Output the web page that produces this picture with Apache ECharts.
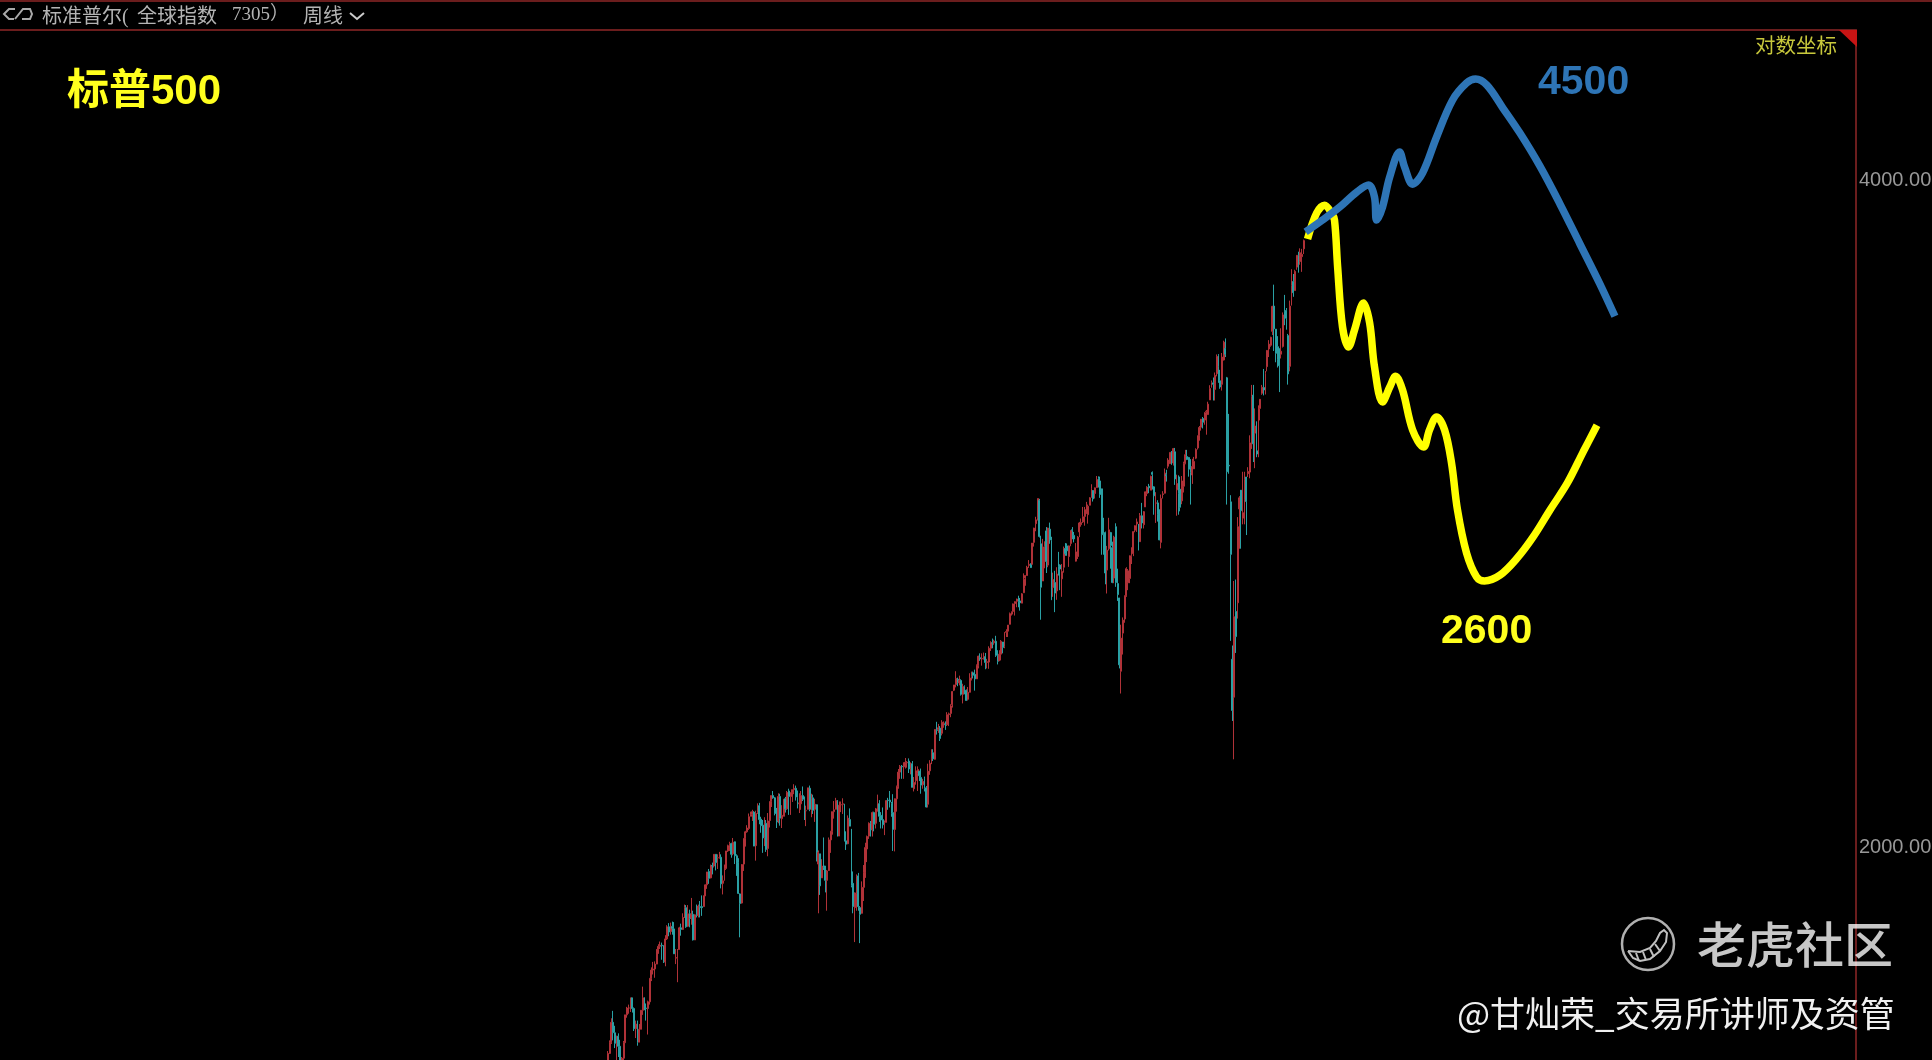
<!DOCTYPE html>
<html><head><meta charset="utf-8">
<style>html,body{margin:0;padding:0;background:#000;overflow:hidden}#c{width:1932px;height:1060px}</style>
<script src="https://cdn.jsdelivr.net/npm/echarts@6/dist/echarts.min.js"></script>
</head><body><div id="c"></div>
<script>
// S&P 500 weekly bars
const weeklyOpen=[
1570,1553,1588,1555,1582,1614,1633,1667,1649,1631,1643,1626,1593,1606,1632,1680,1692,1692,1710,1691,1656,1664,1633,1655,1688,1710,1692,1691,1703,1745,1760,1762,1771,1798,1804,1806,1805,1775,1818,
1841,1832,1841,1837,1782,1782,1798,1839,1836,1858,1878,1842,1866,1858,1865,1816,1865,1863,1880,1880,1880,1901,1923,1950,1937,1962,1961,1985,1968,1978,1979,1926,1932,1956,1992,2003,2007,1986,2011,1982,1968,1905,1887,1965,2018,2032,2039,2065,2069,2074,2003,2073,
2088,2059,2046,2020,2050,1997,2056,2097,2110,2105,2072,2055,2108,2060,2065,2103,2081,2120,2108,2116,2123,2126,2105,2092,2092,2110,2102,2077,2080,2126,2078,2105,2080,2090,1965,1986,1937,1961,1961,1932,1952,2015,2033,2075,2080,2096,2023,2090,2091,2091,2013,2007,2058,
2038,1926,1878,1906,1941,1878,1867,1918,1947,1996,2023,2050,2037,2073,2050,2083,2092,2067,2058,2047,2052,2100,2100,2092,2073,2037,2103,2131,2162,2175,2174,2183,2183,2187,2171,2181,2125,2143,2159,2164,2150,2134,2148,2127,2091,2165,2187,2206,2191,2259,2260,2263,
2251,2274,2272,2271,2295,2298,2319,2354,2368,2381,2372,2378,2344,2363,2354,2332,2349,2388,2397,2393,2382,2416,2435,2432,2434,2437,2423,2424,2459,2473,2473,2477,2441,2427,2444,2475,2464,2500,2503,2521,2551,2555,2576,2582,2588,2583,2577,2605,2645,2652,2680,2685,
2683,2745,2799,2816,2867,2741,2637,2734,2778,2681,2783,2750,2619,2633,2610,2676,2681,2643,2675,2727,2735,2705,2742,2781,2765,2692,2705,2775,2796,2804,2820,2829,2825,2853,2876,2897,2888,2906,2933,2926,2902,2770,2773,2667,2727,2773,2730,2645,2790,2630,2591,2401,
2498,2535,2597,2632,2644,2706,2713,2780,2798,2798,2747,2822,2796,2848,2888,2910,2898,2952,2908,2859,2860,2830,2745,2885,2889,2945,2971,2979,3018,2981,3016,2899,2907,2901,2866,2910,2980,3001,2998,2968,2944,2963,2996,3028,3067,3094,3122,3117,3144,3135,3183,3225,
3240,3218,3271,3333,3247,3235,3318,3358,3257,2974,2863,2431,2337,2555,2578,2842,2898,2815,2869,2938,2948,2953,3038,3199,3075,3019,3018,3155,3205,3224,3219,3295,3356,3369,3418,3509,3426,3364,3357,3338,3365,3488,3493,3403,3296,3583,3600,3566,3654,3699,3675,3694,3724];
const weeklyClose=[
1553,1588,1555,1582,1614,1633,1667,1649,1631,1643,1626,1593,1606,1632,1680,1692,1692,1710,1691,1656,1664,1633,1655,1688,1710,1692,1691,1703,1745,1760,1762,1771,1798,1804,1806,1805,1775,1818,1841,
1831,1842,1838,1790,1783,1797,1839,1836,1859,1878,1841,1866,1857,1865,1816,1864,1863,1881,1878,1878,1901,1923,1949,1936,1962,1961,1985,1968,1978,1978,1925,1931,1955,1992,2003,2007,1985,2010,1982,1967,1906,1886,1964,2018,2032,2040,2064,2068,2075,2002,2071,2089,
2058,2045,2019,2051,1995,2055,2097,2110,2105,2071,2053,2108,2061,2067,2102,2081,2117,2108,2116,2123,2126,2107,2092,2094,2110,2102,2077,2077,2127,2080,2104,2078,2091,1971,1989,1921,1961,1958,1932,1951,2015,2033,2075,2079,2099,2023,2089,2090,2092,2012,2006,2061,2044,
1922,1880,1907,1940,1880,1865,1918,1948,1999,2022,2050,2036,2073,2048,2081,2092,2065,2057,2047,2052,2099,2099,2096,2071,2037,2103,2130,2162,2175,2174,2183,2184,2184,2169,2180,2128,2139,2165,2168,2154,2133,2141,2126,2085,2164,2182,2213,2192,2260,2258,2264,2239,
2277,2275,2271,2295,2297,2316,2351,2367,2383,2373,2378,2344,2363,2355,2329,2349,2384,2399,2391,2382,2416,2439,2432,2433,2438,2423,2425,2459,2473,2472,2477,2441,2426,2444,2477,2461,2500,2502,2519,2549,2553,2575,2581,2588,2582,2578,2602,2642,2652,2675,2683,2674,
2743,2786,2810,2873,2762,2620,2732,2747,2691,2786,2752,2588,2641,2604,2656,2670,2670,2663,2728,2713,2721,2735,2779,2780,2755,2718,2760,2801,2802,2819,2840,2833,2850,2875,2902,2872,2905,2930,2914,2885,2767,2768,2659,2723,2781,2736,2633,2760,2633,2600,2417,2485,
2532,2596,2671,2665,2707,2708,2776,2793,2804,2743,2822,2801,2834,2893,2907,2905,2940,2946,2881,2860,2826,2752,2873,2887,2950,2942,2990,3014,2977,3026,2932,2918,2889,2847,2926,2979,3007,2992,2962,2952,2970,2986,3023,3067,3093,3120,3110,3141,3146,3169,3221,3240,
3235,3265,3330,3295,3226,3328,3380,3338,2954,2972,2711,2305,2541,2489,2790,2875,2837,2831,2930,2864,2955,3044,3194,3041,3098,3009,3130,3185,3225,3216,3271,3351,3373,3397,3508,3427,3341,3319,3298,3348,3477,3484,3465,3270,3509,3585,3558,3638,3699,3663,3709,3703,3756];
const weeklyLow=[
1539,1548,1536,1549,1581,1613,1630,1636,1623,1598,1608,1574,1560,1601,1632,1675,1682,1685,1684,1652,1640,1627,1633,1655,1680,1688,1670,1646,1698,1740,1752,1746,1772,1790,1799,1779,1773,1767,1816,
1823,1826,1826,1790,1771,1738,1798,1824,1835,1858,1839,1841,1840,1845,1815,1816,1859,1859,1859,1862,1880,1901,1915,1925,1936,1944,1958,1952,1955,1976,1916,1904,1933,1953,1990,1992,1978,1983,1965,1941,1905,1821,1886,1951,2001,2030,2036,2065,2055,2002,1972,2070,
2048,2030,1988,2002,1990,1981,2041,2085,2103,2067,2040,2050,2045,2040,2065,2073,2079,2068,2068,2096,2113,2099,2082,2072,2079,2098,2057,2044,2080,2076,2063,2070,2053,1971,1867,1903,1937,1953,1908,1872,1951,1988,2026,2060,2080,2022,2023,2074,2070,2012,1994,2006,2044,
1918,1867,1812,1872,1872,1810,1871,1891,1937,1969,2017,2022,2022,2033,2039,2075,2053,2039,2039,2025,2052,2079,2084,2064,1992,1991,2075,2125,2147,2147,2147,2170,2172,2160,2157,2128,2119,2134,2120,2142,2114,2125,2119,2084,2084,2156,2180,2187,2192,2248,2252,2233,
2246,2264,2259,2268,2268,2289,2312,2352,2361,2364,2366,2341,2322,2344,2328,2329,2349,2378,2383,2353,2382,2408,2427,2415,2430,2406,2408,2407,2452,2459,2468,2437,2418,2428,2428,2446,2459,2488,2488,2521,2544,2547,2544,2566,2566,2557,2577,2605,2624,2652,2673,2673,
2683,2733,2777,2808,2759,2533,2637,2672,2659,2675,2741,2585,2594,2553,2586,2652,2612,2594,2660,2707,2707,2676,2734,2754,2745,2691,2698,2760,2790,2801,2793,2827,2799,2853,2876,2864,2873,2905,2906,2875,2710,2710,2628,2603,2722,2671,2631,2631,2621,2583,2408,2346,
2443,2525,2594,2612,2631,2684,2706,2774,2775,2722,2747,2785,2785,2848,2880,2889,2898,2900,2825,2801,2805,2751,2728,2873,2888,2924,2964,2979,2975,2973,2914,2822,2825,2835,2856,2891,2977,2990,2939,2855,2917,2963,2993,3023,3051,3083,3090,3102,3070,3134,3183,3226,
3181,3181,3262,3240,3220,3214,3316,3328,2855,2948,2478,2280,2191,2447,2536,2727,2727,2797,2797,2766,2938,2934,3025,2984,2965,2999,2999,3116,3200,3198,3201,3279,3328,3364,3405,3349,3310,3292,3209,3323,3361,3440,3424,3234,3279,3511,3543,3566,3644,3633,3663,3636,3704];
const weeklyHigh=[
1573,1597,1597,1592,1618,1636,1674,1687,1661,1644,1648,1637,1608,1635,1680,1694,1698,1710,1710,1693,1670,1670,1664,1688,1730,1711,1700,1705,1745,1765,1775,1776,1799,1808,1813,1811,1806,1825,1844,
1848,1849,1851,1850,1799,1799,1841,1847,1867,1884,1883,1883,1874,1897,1872,1865,1884,1884,1891,1902,1902,1924,1949,1955,1964,1968,1985,1985,1985,1990,1985,1942,1964,1992,2005,2011,2009,2019,2002,1985,1977,1906,1965,2018,2034,2046,2071,2075,2079,2076,2077,2093,
2094,2064,2057,2063,2057,2072,2097,2110,2120,2107,2083,2115,2114,2089,2102,2107,2120,2125,2117,2123,2135,2132,2121,2115,2120,2130,2108,2088,2127,2132,2114,2112,2103,2080,1993,1986,1975,2020,1957,1953,2020,2034,2075,2098,2105,2100,2097,2097,2104,2092,2033,2067,2082,
1938,1950,1908,1944,1947,1881,1930,1963,2009,2024,2052,2055,2075,2075,2083,2112,2100,2074,2084,2056,2100,2105,2120,2096,2113,2102,2132,2169,2178,2178,2184,2194,2187,2193,2184,2187,2151,2175,2175,2165,2170,2147,2152,2131,2181,2189,2214,2214,2260,2278,2273,2268,
2282,2279,2279,2301,2300,2320,2352,2367,2401,2385,2390,2381,2370,2366,2356,2362,2396,2400,2400,2405,2418,2440,2446,2446,2448,2447,2432,2464,2477,2484,2481,2491,2454,2454,2480,2472,2500,2508,2519,2552,2555,2576,2582,2589,2597,2591,2604,2658,2652,2679,2695,2686,
2743,2787,2819,2873,2872,2764,2755,2748,2789,2787,2802,2761,2660,2665,2675,2718,2683,2684,2733,2743,2742,2736,2779,2789,2775,2743,2763,2804,2814,2848,2848,2863,2855,2877,2916,2898,2906,2941,2940,2939,2895,2816,2776,2735,2816,2775,2747,2764,2800,2671,2585,2520,
2539,2598,2675,2670,2708,2731,2776,2794,2814,2798,2830,2860,2836,2894,2910,2917,2942,2955,2910,2892,2868,2841,2885,2895,2964,2960,2996,3014,3018,3028,3028,2945,2943,2939,2941,2985,3022,3022,3000,2993,2994,3000,3027,3067,3098,3120,3127,3143,3150,3177,3232,3248,
3258,3275,3337,3338,3284,3342,3385,3393,3260,3137,2883,2466,2637,2641,2818,2880,2890,2954,2954,2933,2968,3068,3233,3233,3155,3113,3165,3186,3233,3287,3280,3352,3387,3399,3510,3588,3426,3401,3330,3429,3486,3550,3502,3409,3529,3646,3628,3644,3699,3713,3726,3724,3760];
const leadingWeeks=345, totalWeeks=1067;
// forecast paths: [week number, price]
const bullWeeks=[750.6,760.3,770.1,779.9,786.8,790.2,791.4,794.8,798.9,804.6,807.5,812.1,817.8,825.9,835.1,843.1,848.3,854.8,864.0,873.8,885.3,896.8,908.3,919.8,928.4];
const bullPrice=[3790,3837,3889,3950,3979,3930,3837,3889,4012,4118,4054,3983,4029,4183,4347,4424,4443,4415,4311,4200,4058,3902,3743,3590,3472];
const bearWeeks=[751.7,756.9,761.5,765.5,767.2,769.0,771.8,775.3,778.7,783.9,787.4,790.2,794.8,798.9,802.3,806.3,812.1,818.4,821.8,825.9,830.5,834.5,837.9,843.1,848.9,853.4,862.3,872.1,881.3,891.1,901.1,910.1,918.1];
const bearPrice=[3762,3865,3897,3865,3837,3654,3434,3363,3423,3520,3448,3294,3176,3225,3262,3216,3085,3031,3085,3127,3085,2980,2839,2715,2648,2637,2653,2700,2760,2839,2920,3015,3100];
const priceTicks=[2000,4000];

if(new Set([weeklyOpen.length,weeklyClose.length,weeklyLow.length,weeklyHigh.length]).size>1)
  throw new Error('len '+[weeklyOpen.length,weeklyClose.length,weeklyLow.length,weeklyHigh.length]);

const cats=[];for(let i=0;i<totalWeeks;i++)cats.push(String(i));
const bars=[];for(let i=0;i<weeklyOpen.length;i++)
  bars.push([leadingWeeks+i,weeklyOpen[i],weeklyClose[i],weeklyLow[i],weeklyHigh[i]]);
const zip=(a,b)=>a.map((v,i)=>[v,b[i]]);
const frame='#6b1d1d';
const CJK='"Noto Sans CJK SC"';
const txt=(text,x,y,font,fill,align)=>({type:'text',z:50,silent:true,style:{text,x,y,font,fill,textAlign:align||'left',textVerticalAlign:'middle'}});
const pl=(points,stroke,w)=>({type:'polyline',silent:true,z:50,shape:{points},style:{stroke,lineWidth:w,fill:null}});
const chart=echarts.init(document.getElementById('c'),null,{renderer:'canvas'});
chart.setOption({
 animation:false,backgroundColor:'#000',
 grid:{left:0,right:76,top:30,bottom:0,containLabel:false,outerBoundsMode:'none'},
 xAxis:[
  {type:'category',data:cats,position:'top',boundaryGap:true,axisLine:{show:true,onZero:false,lineStyle:{color:frame,width:2}},axisTick:{show:false},axisLabel:{show:false},splitLine:{show:false}},
  {type:'value',min:0,max:totalWeeks,show:false,splitLine:{show:false}}
 ],
 yAxis:{type:'log',logBase:2,min:1603,max:4675,position:'right',
  axisLine:{show:true,onZero:false,lineStyle:{color:frame,width:2}},axisTick:{show:false},splitLine:{show:false},minorTick:{show:false},minorSplitLine:{show:false},
  axisLabel:{show:true,customValues:priceTicks,margin:3,color:'#989898',fontFamily:'"Liberation Sans"',fontSize:20,padding:[2,0,0,0],formatter:v=>Number(v).toFixed(2),showMinLabel:true,showMaxLabel:true}},
 series:[
  {type:'candlestick',xAxisIndex:0,data:bars,encode:{x:0,y:[1,2,3,4]},barWidth:1.4,
   itemStyle:{color:'#b03238',color0:'#2aa0a4',borderColor:'#b03238',borderColor0:'#2aa0a4',borderWidth:1}},
  {type:'line',name:'bear',xAxisIndex:1,data:zip(bearWeeks,bearPrice),smooth:0.35,showSymbol:false,symbol:'none',z:5,lineStyle:{color:'#ffff00',width:7.5,cap:'butt'}},
  {type:'line',name:'bull',xAxisIndex:1,data:zip(bullWeeks,bullPrice),smooth:0.35,showSymbol:false,symbol:'none',z:6,lineStyle:{color:'#2e75b6',width:7.5,cap:'butt'}}
 ],
 graphic:{elements:[
  {type:'line',silent:true,shape:{x1:0,y1:1,x2:1932,y2:1},style:{stroke:frame,lineWidth:2}},
  {type:'polygon',silent:true,z:50,shape:{points:[[1839,30],[1857,30],[1857,47]]},style:{fill:'#c81414'}},
  pl([[15,9],[9,9],[4,14],[9,19],[14,19]],'#aaa',2),
  pl([[15,19],[23,9],[30,9],[32,14],[30,19],[22,19]],'#aaa',2),
  pl([[350,13],[357,19],[364,13]],'#ccc',2),
  txt('标准普尔(',42,18,'20px "Liberation Serif",'+CJK,'#b4b4b4'),
  txt('全球指数',137,15,'20px '+CJK,'#b4b4b4'),
  txt('7305）',232,15,'19px "Liberation Serif",'+CJK,'#b4b4b4'),
  txt('周线',303,15,'20px '+CJK,'#b4b4b4'),
  txt('标普500',67,92,'bold 42px "Liberation Sans",'+CJK,'#ffff1e'),
  txt('4500',1538,83,'bold 41px "Liberation Sans"','#2e75b6'),
  txt('2600',1441,632,'bold 41px "Liberation Sans"','#ffff1e'),
  txt('对数坐标',1755,45,'20.5px '+CJK,'#c8c83c'),
  {type:'circle',silent:true,z:50,shape:{cx:1648,cy:944,r:26},style:{fill:null,stroke:'#b0b0b0',lineWidth:2.5}},
  pl([[1628,951],[1640,952],[1650,948],[1656,941],[1660,933],[1664,930],[1667,933],[1666,942],[1660,951],[1650,959],[1640,961],[1633,958],[1628,951]],'#c0c0c0',2),
  pl([[1636,953],[1639,961]],'#c0c0c0',2),pl([[1643,952],[1646,960]],'#c0c0c0',2),
  pl([[1650,949],[1654,957]],'#c0c0c0',2),pl([[1655,944],[1660,951]],'#c0c0c0',2),
  txt('老虎社区',1697,944,'500 49px '+CJK,'rgba(255,255,255,0.78)'),
  txt('@甘灿荣_交易所讲师及资管',1457,1014,'35px '+CJK,'#f0f0f0')
 ]}
});
</script></body></html>
